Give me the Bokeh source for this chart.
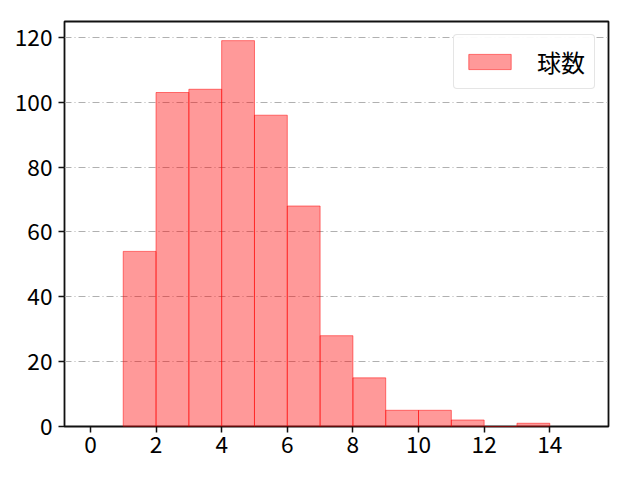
from bokeh.plotting import figure
from bokeh.models import Range1d, FixedTicker, Legend, LegendItem
from bokeh.embed import file_html
from bokeh.resources import INLINE

bin_left = [1, 2, 3, 4, 5, 6, 7, 8, 9, 10, 11, 12, 13]
bin_right = [2, 3, 4, 5, 6, 7, 8, 9, 10, 11, 12, 13, 14]
counts = [54, 103, 104, 119, 96, 68, 28, 15, 5, 5, 2, 0, 1]
label = "球数"
x_ticks = [0, 2, 4, 6, 8, 10, 12, 14]
y_ticks = [0, 20, 40, 60, 80, 100, 120]

FONT = "Noto Sans CJK JP"

p = figure(width=624, height=464, output_backend="svg", toolbar_location=None,
           x_range=Range1d(-0.79, 15.79), y_range=Range1d(0, 124.9),
           min_border_left=64, min_border_right=16, min_border_top=21, min_border_bottom=38)

r = p.quad(left=bin_left, right=bin_right, bottom=0, top=counts,
           fill_color="red", fill_alpha=0.4, line_color="red", line_alpha=0.5, line_width=1)

p.outline_line_color = "#111111"
p.outline_line_width = 1.8
p.outline_line_alpha = 1

for ax in (p.xaxis[0], p.yaxis[0]):
    ax.axis_line_color = None
    ax.major_tick_line_color = "#111111"
    ax.major_tick_line_width = 1.5
    ax.major_tick_out = 6
    ax.major_tick_in = 0
    ax.minor_tick_line_color = None
    ax.major_label_text_font = FONT
    ax.major_label_text_font_size = "17pt"
    ax.major_label_text_color = "black"
    ax.major_label_standoff = 3

p.yaxis[0].major_label_standoff = 6
p.xaxis[0].ticker = FixedTicker(ticks=x_ticks)
p.yaxis[0].ticker = FixedTicker(ticks=y_ticks)

p.xgrid.grid_line_color = None
p.ygrid.grid_line_color = "#b0b0b0"
p.ygrid.grid_line_dash = "7 3 1 3"
p.ygrid.grid_line_width = 1

legend = Legend(items=[LegendItem(label=label, renderers=[r])], location="top_right")
legend.label_text_font = FONT
legend.label_text_font_size = "18pt"
legend.label_text_color = "black"
legend.glyph_width = 53
legend.glyph_height = 19
legend.label_standoff = 21
legend.border_line_color = "#cccccc"
legend.border_radius = 4
legend.padding = 9
legend.margin = 13
legend.spacing = 0
p.add_layout(legend)

open("out.html", "w").write(file_html(p, INLINE))
